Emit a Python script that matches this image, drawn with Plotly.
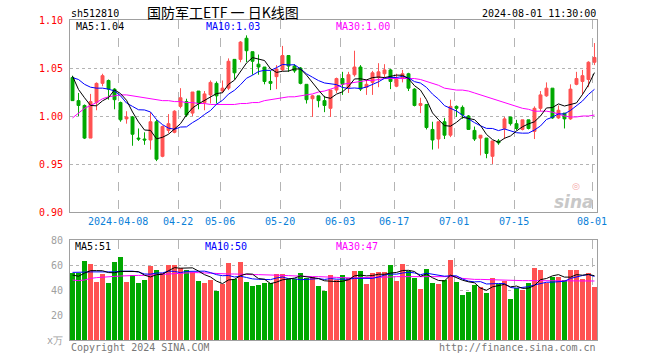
import plotly.graph_objects as go

# ---------------- data ----------------
opens = [1.040,1.016,1.011,0.977,1.014,1.034,1.037,1.028,1.014,0.997,
         0.999,0.977,0.976,0.975,0.994,0.958,0.985,0.983,1.010,1.015,
         1.003,1.026,1.014,1.022,1.034,1.026,1.029,1.059,1.059,1.081,
         1.067,1.054,1.051,1.036,1.041,1.048,1.063,1.052,1.050,1.033,
         1.018,1.021,1.016,1.008,1.027,1.039,1.030,1.043,1.051,1.030,
         1.035,1.040,1.044,1.048,1.031,1.039,1.044,1.028,1.011,1.012,
         0.986,0.976,0.994,0.980,1.010,1.009,1.000,0.985,0.977,0.977,
         0.958,0.974,0.987,0.999,0.992,0.986,0.996,0.984,1.008,1.021,
         1.029,0.998,1.003,0.997,1.033,1.036,1.038,1.056]
highs = [1.042,1.024,1.012,1.023,1.035,1.044,1.038,1.029,1.015,1.005,
         1.000,0.987,0.983,1.004,0.996,0.990,1.002,1.006,1.029,1.018,
         1.025,1.026,1.026,1.037,1.036,1.037,1.060,1.059,1.078,1.084,
         1.067,1.064,1.051,1.047,1.053,1.073,1.063,1.054,1.051,1.033,
         1.022,1.021,1.021,1.027,1.040,1.046,1.046,1.068,1.053,1.038,
         1.047,1.055,1.054,1.049,1.044,1.048,1.045,1.029,1.019,1.012,
         0.994,0.994,0.998,1.017,1.011,1.011,1.001,0.989,0.978,0.977,
         0.974,0.976,0.999,0.999,0.996,0.996,0.996,1.010,1.026,1.035,
         1.029,1.011,1.003,1.033,1.046,1.048,1.057,1.076]
lows =  [1.016,1.000,0.976,0.977,1.006,1.031,1.017,1.007,0.994,0.992,
         0.969,0.974,0.970,0.965,0.953,0.957,0.982,0.982,1.008,0.999,
         1.000,1.007,1.006,1.013,1.013,1.024,1.027,1.038,1.056,1.056,
         1.043,1.043,1.033,1.027,1.028,1.047,1.046,1.045,1.033,1.013,
         0.999,1.009,1.004,0.999,1.024,1.022,1.024,1.041,1.026,1.022,
         1.022,1.030,1.040,1.028,1.030,1.035,1.026,1.010,1.003,0.986,
         0.965,0.966,0.976,0.978,0.999,0.997,0.986,0.974,0.959,0.956,
         0.950,0.970,0.976,0.990,0.985,0.985,0.986,0.976,1.005,1.020,
         0.997,0.997,0.987,0.996,1.032,1.022,1.030,1.053]
closes = [1.016,1.011,0.977,1.015,1.034,1.042,1.028,1.017,0.996,0.999,
          0.981,0.976,0.975,0.994,0.955,0.989,0.992,1.005,1.019,1.001,
          1.025,1.013,1.023,1.035,1.021,1.029,1.057,1.045,1.077,1.068,
          1.057,1.051,1.036,1.034,1.049,1.063,1.052,1.047,1.034,1.017,
          1.021,1.016,1.011,1.027,1.039,1.033,1.043,1.051,1.028,1.033,
          1.045,1.046,1.048,1.036,1.038,1.044,1.029,1.011,1.013,0.988,
          0.975,0.994,0.980,1.010,1.008,1.001,0.986,0.976,0.980,0.961,
          0.974,0.972,0.997,0.992,0.987,0.996,0.987,1.008,1.022,1.029,
          0.998,1.006,0.997,1.028,1.039,1.042,1.056,1.061]
# first values of the moving averages (window starts before the visible range)
ma5_head = [1.0415, 1.0276, 1.019, 1.011]
ma10_head = [1.040, 1.038, 1.033, 1.030, 1.029, 1.029, 1.028, 1.026, 1.021]
ma30 = [0.998,1.003,1.008,1.011,1.014,1.018,1.020,1.021,1.022,1.022,
        1.021,1.020,1.019,1.018,1.017,1.016,1.016,1.015,1.015,1.014,
        1.014,1.013,1.013,1.012,1.012,1.012,1.012,1.012,1.013,1.013,
        1.014,1.014,1.016,1.017,1.018,1.019,1.020,1.020,1.021,1.022,
        1.023,1.025,1.026,1.028,1.030,1.033,1.034,1.035,1.036,1.037,
        1.037,1.038,1.039,1.039,1.039,1.039,1.039,1.039,1.038,1.036,
        1.034,1.032,1.029,1.028,1.027,1.027,1.026,1.024,1.022,1.020,
        1.018,1.016,1.014,1.012,1.010,1.008,1.007,1.005,1.005,1.005,
        1.004,1.002,1.000,0.999,0.999,1.000,1.000,1.001]

volumes = [53.3,53.3,63.2,61.1,46.7,52.8,45.9,62.4,66.7,46.7,
           52.0,45.9,48.0,59.5,56.0,53.3,60.3,60.3,57.3,56.0,
           54.7,47.5,45.9,48.0,39.5,44.8,61.9,48.5,62.7,46.7,
           43.5,44.3,45.9,45.3,52.5,52.8,48.5,48.5,53.9,49.3,
           50.7,43.5,39.5,52.0,48.0,52.0,49.3,55.2,55.2,44.8,
           53.3,54.7,54.7,60.3,47.2,61.1,55.5,49.9,40.8,56.8,
           45.9,44.8,48.0,64.0,46.4,36.0,38.4,44.0,42.7,37.9,
           49.6,44.8,47.5,32.8,41.3,40.0,45.9,57.9,56.3,45.9,
           50.7,50.7,48.0,56.0,56.0,48.5,53.9,42.7]
vma5_head = [52.0, 51.0, 53.5, 55.5]
vma10_head = [54.1, 54.0, 54.3, 54.5, 54.5, 54.4, 54.0, 54.5, 55.0]
vma30 = [48.0,47.5,48.0,49.3,49.9,50.4,50.7,50.9,51.2,51.5,
         51.5,51.7,51.7,52.0,52.3,52.8,53.1,53.3,53.6,53.9,
         53.9,53.9,53.6,53.3,53.1,52.8,52.8,52.8,52.5,52.5,
         52.3,52.3,52.0,52.0,51.7,51.7,51.5,51.2,50.9,50.9,
         50.7,50.7,50.7,50.4,50.1,49.9,49.6,49.6,49.9,49.9,
         50.1,50.1,50.4,50.4,50.7,50.7,50.7,50.7,50.7,50.7,
         50.7,50.7,50.7,50.7,50.7,49.3,48.8,48.5,48.5,48.3,
         48.0,48.0,48.0,47.7,47.7,47.5,47.5,47.5,47.5,47.5,
         47.5,47.5,47.2,47.2,47.2,47.2,47.2,47.2]

tick_pos = [8, 18, 25, 35, 45, 54, 64, 74, 87]
tick_labels = ["2024-04-08", "04-22", "05-06", "05-20", "06-03", "06-17",
               "07-01", "07-15", "08-01"]

title_text = "国防军工ETF 一 日K线图"
code_text = "sh512810"
time_text = "2024-08-01 11:30:00"


def moving_avg(vals, n, head):
    out = list(head)
    for i in range(len(head), len(vals)):
        out.append(sum(vals[i - n + 1:i + 1]) / n)
    return out


ma5 = moving_avg(closes, 5, ma5_head)
ma10 = moving_avg(closes, 10, ma10_head)
vma5 = moving_avg(volumes, 5, vma5_head)
vma10 = moving_avg(volumes, 10, vma10_head)

x = list(range(len(closes)))
RED = "#ff5252"
GREEN = "#00a800"
vol_colors = [RED if c >= o else GREEN for o, c in zip(opens, closes)]

MONO = "DejaVu Sans Mono"
fig = go.Figure()
fig.add_trace(go.Candlestick(
    x=x, open=opens, high=highs, low=lows, close=closes,
    increasing=dict(line=dict(color=RED, width=1), fillcolor=RED),
    decreasing=dict(line=dict(color=GREEN, width=1), fillcolor=GREEN),
    whiskerwidth=0, xaxis="x", yaxis="y", hoverinfo="skip"))
for vals, col in [(ma30, "#ff00ff"), (ma10, "#0000ff"), (ma5, "#000000")]:
    fig.add_trace(go.Scatter(x=x, y=vals, mode="lines",
                             line=dict(color=col, width=1),
                             xaxis="x", yaxis="y", hoverinfo="skip"))
fig.add_trace(go.Bar(x=x, y=volumes, marker=dict(color=vol_colors, line=dict(width=0)),
                     width=0.8, xaxis="x2", yaxis="y2", hoverinfo="skip"))
for vals, col in [(vma30, "#ff00ff"), (vma10, "#0000ff"), (vma5, "#000000")]:
    fig.add_trace(go.Scatter(x=x, y=vals, mode="lines",
                             line=dict(color=col, width=1),
                             xaxis="x2", yaxis="y2", hoverinfo="skip"))

xr = [-0.42, len(x) - 1 + 0.42]
tickvals = [p - 0.4 for p in tick_pos]
common_x = dict(range=xr, tickvals=tickvals, showgrid=True, gridcolor="#b4b4b4",
                griddash="dash", gridwidth=1, showline=True, linecolor="#a0a0a0",
                linewidth=1, mirror=True, zeroline=False, ticks="", automargin=False)
fig.update_layout(
    width=660, height=360,
    margin=dict(l=70, r=63, t=20, b=20, autoexpand=False),
    paper_bgcolor="white", plot_bgcolor="white",
    showlegend=False, bargap=0,
    xaxis=dict(domain=[0, 1], anchor="y", ticktext=tick_labels,
               tickfont=dict(family=MONO, size=10, color="#0a80d8"),
               rangeslider=dict(visible=False), **common_x),
    yaxis=dict(domain=[0.4, 1], range=[0.9, 1.1], anchor="x",
               tickvals=[0.9, 0.95, 1.0, 1.05, 1.1],
               ticktext=["0.90", "0.95", "1.00", "1.05", "1.10"],
               tickfont=dict(family=MONO, size=10, color="#ff0000"),
               showgrid=True, gridcolor="#b4b4b4", griddash="dot",
               showline=True, linecolor="#a0a0a0", linewidth=1, mirror=True,
               zeroline=False, ticks="", ticklabelstandoff=4, automargin=False),
    xaxis2=dict(domain=[0, 1], anchor="y2", showticklabels=False, **common_x),
    yaxis2=dict(domain=[0, 0.3125], range=[0, 80], anchor="x2",
                tickvals=[0, 20, 40, 60, 80],
                ticktext=["x万", "20", "40", "60", "80"],
                tickfont=dict(family=MONO, size=10, color="#a0a0a0"),
                showgrid=True, gridcolor="#b4b4b4", griddash="dot",
                showline=True, linecolor="#a0a0a0", linewidth=1, mirror=True,
                zeroline=False, ticks="", ticklabelstandoff=4, automargin=False),
)


def px_x(p):
    return (p - 70) / 527.0


def px_y(p):
    return (340 - p) / 320.0


def label(text, xp, yp, color, size=10, anchor="left", family=MONO, h=12):
    fig.add_annotation(text=text, x=px_x(xp), y=px_y(yp), xref="paper", yref="paper",
                       xanchor=anchor, yanchor="middle", showarrow=False, height=h,
                       borderpad=0,
                       font=dict(family=family, size=size, color=color))


label(code_text, 70, 13, "#000000", size=10)
label(title_text, 223, 12, "#000000", size=14, anchor="center",
      family="Noto Sans CJK SC", h=16)
label(time_text, 597, 13, "#000000", size=10, anchor="right")
label("MA5:%.2f" % 1.04, 75, 26.5, "#000000")
label("MA10:%.2f" % 1.03, 205, 26.5, "#0000ff")
label("MA30:%.2f" % 1.00, 335, 26.5, "#ff00ff")
label("MA5:51", 74, 246, "#000000")
label("MA10:50", 204, 246, "#0000ff")
label("MA30:47", 335, 246, "#ff00ff")
label("Copyright 2024 SINA.COM", 70, 346.5, "#777777")
label("http://finance.sina.com.cn", 597, 346.5, "#777777", anchor="right")
# sina watermark
label("<b><i>sina</i></b>", 595, 202, "#c8c8c8", size=17, anchor="right",
      family="DejaVu Sans", h=18)
label("◎", 576, 186, "#f4a8a8", size=9, anchor="center", family="DejaVu Sans", h=10)

fig.write_html("out.html", config={"displayModeBar": False},
               post_script="document.body.style.margin='0';")
